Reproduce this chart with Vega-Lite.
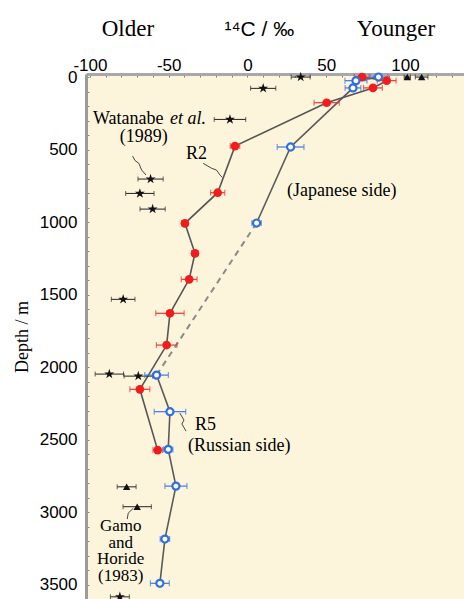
{
  "$schema": "https://vega.github.io/schema/vega-lite/v6.json",
  "width": 378,
  "height": 525,
  "autosize": {"type": "none"},
  "padding": {"left": 86, "top": 74, "right": 0, "bottom": 0},
  "background": "#ffffff",
  "config": {"view": {"fill": "#fcf5dc", "stroke": null}},
  "datasets": {
    "r2": [
      {"depth": 0, "c14": 72.8, "err": 5},
      {"depth": 25, "c14": 88.4, "err": 6},
      {"depth": 75, "c14": 79.7, "err": 6},
      {"depth": 177, "c14": 50.3, "err": 8},
      {"depth": 476, "c14": -7.9, "err": 3},
      {"depth": 797, "c14": -18.9, "err": 4.5},
      {"depth": 1008, "c14": -39.7, "err": 2},
      {"depth": 1215, "c14": -33.3, "err": 2},
      {"depth": 1394, "c14": -37, "err": 5},
      {"depth": 1628, "c14": -49.2, "err": 9},
      {"depth": 1847, "c14": -51.3, "err": 6.5},
      {"depth": 2152, "c14": -68.3, "err": 6.3},
      {"depth": 2571, "c14": -57, "err": 3}
    ],
    "r5": [
      {"depth": 0, "c14": 83.2, "err": 6, "seg": "J"},
      {"depth": 25, "c14": 68.9, "err": 7, "seg": "J"},
      {"depth": 75, "c14": 67, "err": 5, "seg": "J"},
      {"depth": 482, "c14": 27.4, "err": 8.5, "seg": "J"},
      {"depth": 1006, "c14": 5.8, "err": 3, "seg": "J"},
      {"depth": 2054, "c14": -57.7, "err": 7.5, "seg": "R"},
      {"depth": 2306, "c14": -49.2, "err": 10, "seg": "R"},
      {"depth": 2566, "c14": -50.3, "err": 3, "seg": "R"},
      {"depth": 2819, "c14": -45.4, "err": 7, "seg": "R"},
      {"depth": 3184, "c14": -52.4, "err": 3, "seg": "R"},
      {"depth": 3489, "c14": -55.6, "err": 6, "seg": "R"}
    ],
    "dashed": [
      {"depth": 1006, "c14": 5.8},
      {"depth": 2054, "c14": -57.7}
    ],
    "watanabe": [
      {"depth": 0, "c14": 33.8, "err": 6},
      {"depth": 78, "c14": 10, "err": 8},
      {"depth": 292, "c14": -11.1, "err": 10},
      {"depth": 703, "c14": -61.5, "err": 8},
      {"depth": 802, "c14": -68.3, "err": 9},
      {"depth": 910, "c14": -60.2, "err": 8},
      {"depth": 1532, "c14": -78.9, "err": 7.5},
      {"depth": 2047, "c14": -87.7, "err": 9},
      {"depth": 2061, "c14": -69.3, "err": 9},
      {"depth": 3582, "c14": -81, "err": 6}
    ],
    "gamo": [
      {"depth": 0, "c14": 110.6, "err": 4},
      {"depth": 0, "c14": 101.5, "err": 2},
      {"depth": 2824, "c14": -76.7, "err": 6},
      {"depth": 2961, "c14": -70, "err": 9}
    ],
    "leaders": [
      {"id": "w", "ord": 1, "c14": -72.9, "depth": 545},
      {"id": "w", "ord": 2, "c14": -71.4, "depth": 575},
      {"id": "w", "ord": 3, "c14": -68.9, "depth": 595},
      {"id": "w", "ord": 4, "c14": -67.2, "depth": 641},
      {"id": "w", "ord": 5, "c14": -64.4, "depth": 675},
      {"id": "r2", "ord": 1, "c14": -28.1, "depth": 595},
      {"id": "r2", "ord": 2, "c14": -22.7, "depth": 629},
      {"id": "r2", "ord": 3, "c14": -19.6, "depth": 641},
      {"id": "r2", "ord": 4, "c14": -17.5, "depth": 675},
      {"id": "r2", "ord": 5, "c14": -16, "depth": 691},
      {"id": "r5", "ord": 1, "c14": -42.9, "depth": 2316},
      {"id": "r5", "ord": 2, "c14": -40.3, "depth": 2364},
      {"id": "r5", "ord": 3, "c14": -41.6, "depth": 2391},
      {"id": "r5", "ord": 4, "c14": -39, "depth": 2440},
      {"id": "g", "ord": 1, "c14": -72.5, "depth": 2972},
      {"id": "g", "ord": 2, "c14": -75.7, "depth": 3005},
      {"id": "g", "ord": 3, "c14": -76.3, "depth": 3046}
    ],
    "annotLeft": [
      {"text": "Watanabe", "c14": -98.1, "depth": 290},
      {"text": "(1989)", "c14": -81, "depth": 415},
      {"text": "R2", "c14": -39, "depth": 527},
      {"text": "(Japanese side)", "c14": 25.1, "depth": 786},
      {"text": "R5", "c14": -33.3, "depth": 2398},
      {"text": "(Russian side)", "c14": -37.8, "depth": 2540}
    ],
    "annotItalic": [
      {"text": "et al.", "c14": -49.2, "depth": 290}
    ],
    "annotCenter": [
      {"text": "Gamo", "c14": -80.5, "depth": 3096},
      {"text": "and", "c14": -80.5, "depth": 3210},
      {"text": "Horide", "c14": -80.5, "depth": 3324},
      {"text": "(1983)", "c14": -80.5, "depth": 3438}
    ],
    "headSerif": [
      {"text": "Older", "c14": -75.9, "depth": -283},
      {"text": "Younger", "c14": 94.3, "depth": -283}
    ],
    "headSans": [
      {"text": "¹⁴C / ‰", "c14": 7.6, "depth": -283}
    ]
  },
  "encoding": {
    "x": {
      "field": "c14",
      "type": "quantitative",
      "scale": {"domain": [-102.5, 137.5], "nice": false, "zero": false},
      "axis": {
        "orient": "top",
        "title": null,
        "values": [-100, -90, -80, -70, -60, -50, -40, -30, -20, -10, 0, 10, 20, 30, 40, 50, 60, 70, 80, 90, 100, 110, 120, 130],
        "labelExpr": "datum.value % 50 === 0 ? '' + datum.value : ''",
        "labelFont": "Liberation Sans",
        "labelFontSize": 17,
        "labelColor": "#000000",
        "labelPadding": 3,
        "labelOverlap": false,
        "labelFlush": false,
        "labelBound": false,
        "domainColor": "#a8a8a8",
        "domainWidth": 3,
        "tickColor": "#777777",
        "tickSize": -3,
        "tickWidth": 1,
        "grid": false
      }
    },
    "y": {
      "field": "depth",
      "type": "quantitative",
      "scale": {"domain": [-21, 3597], "nice": false, "zero": false, "reverse": true},
      "axis": {
        "title": "Depth / m",
        "titleFont": "Liberation Serif",
        "titleFontSize": 18,
        "titleFontWeight": "normal",
        "titleColor": "#000000",
        "titlePadding": 8,
        "values": [0, 100, 200, 300, 400, 500, 600, 700, 800, 900, 1000, 1100, 1200, 1300, 1400, 1500, 1600, 1700, 1800, 1900, 2000, 2100, 2200, 2300, 2400, 2500, 2600, 2700, 2800, 2900, 3000, 3100, 3200, 3300, 3400, 3500],
        "labelExpr": "datum.value % 500 === 0 ? '' + datum.value : ''",
        "labelFont": "Liberation Sans",
        "labelFontSize": 17,
        "labelColor": "#000000",
        "labelPadding": 12,
        "labelOverlap": false,
        "labelFlush": false,
        "labelBound": false,
        "domainColor": "#9c9c9c",
        "domainWidth": 3,
        "tickColor": "#888888",
        "tickSize": -3,
        "tickWidth": 1,
        "grid": false
      }
    }
  },
  "layer": [
    {
      "data": {"name": "dashed"},
      "mark": {"type": "line", "color": "#8a8a8a", "strokeWidth": 2, "strokeDash": [6, 5]},
      "encoding": {"order": {"field": "depth", "type": "quantitative"}}
    },
    {
      "data": {"name": "r2"},
      "mark": {"type": "line", "color": "#555555", "strokeWidth": 1.6},
      "encoding": {"order": {"field": "depth", "type": "quantitative"}}
    },
    {
      "data": {"name": "r5"},
      "mark": {"type": "line", "color": "#5a5a5a", "strokeWidth": 1.6},
      "encoding": {
        "detail": {"field": "seg", "type": "nominal"},
        "order": {"field": "depth", "type": "quantitative"}
      }
    },
    {
      "data": {"name": "leaders"},
      "mark": {"type": "line", "color": "#444444", "strokeWidth": 1},
      "encoding": {
        "detail": {"field": "id", "type": "nominal"},
        "order": {"field": "ord", "type": "quantitative"}
      }
    },
    {
      "data": {"name": "watanabe"},
      "mark": {"type": "errorbar", "color": "#222222", "ticks": {"size": 5}, "thickness": 1},
      "encoding": {"xError": {"field": "err"}}
    },
    {
      "data": {"name": "gamo"},
      "mark": {"type": "errorbar", "color": "#222222", "ticks": {"size": 5}, "thickness": 1},
      "encoding": {"xError": {"field": "err"}}
    },
    {
      "data": {"name": "r2"},
      "mark": {"type": "errorbar", "color": "#e03a3a", "ticks": {"size": 6}, "thickness": 1.2},
      "encoding": {"xError": {"field": "err"}}
    },
    {
      "data": {"name": "r5"},
      "mark": {"type": "errorbar", "color": "#3f78e0", "ticks": {"size": 6}, "thickness": 1.2},
      "encoding": {"xError": {"field": "err"}}
    },
    {
      "data": {"name": "watanabe"},
      "mark": {"type": "point", "shape": "M0,-1L0.2245,-0.309L0.9511,-0.309L0.3633,0.118L0.5878,0.809L0,0.382L-0.5878,0.809L-0.3633,0.118L-0.9511,-0.309L-0.2245,-0.309Z", "size": 110, "filled": true, "color": "#111111", "opacity": 1}
    },
    {
      "data": {"name": "gamo"},
      "mark": {"type": "point", "shape": "triangle-up", "size": 55, "filled": true, "color": "#111111", "opacity": 1}
    },
    {
      "data": {"name": "r2"},
      "mark": {"type": "circle", "size": 75, "color": "#f21c1c", "opacity": 1}
    },
    {
      "data": {"name": "r5"},
      "mark": {"type": "point", "shape": "circle", "size": 50, "filled": true, "fill": "#ffffff", "stroke": "#2f6fe0", "strokeWidth": 2.2, "opacity": 1}
    },
    {
      "data": {"name": "annotLeft"},
      "mark": {"type": "text", "font": "Liberation Serif", "fontSize": 18, "align": "left", "baseline": "middle", "color": "#000000"},
      "encoding": {"text": {"field": "text", "type": "nominal"}}
    },
    {
      "data": {"name": "annotItalic"},
      "mark": {"type": "text", "font": "Liberation Serif", "fontSize": 18, "fontStyle": "italic", "align": "left", "baseline": "middle", "color": "#000000"},
      "encoding": {"text": {"field": "text", "type": "nominal"}}
    },
    {
      "data": {"name": "annotCenter"},
      "mark": {"type": "text", "font": "Liberation Serif", "fontSize": 17, "align": "center", "baseline": "middle", "color": "#000000"},
      "encoding": {"text": {"field": "text", "type": "nominal"}}
    },
    {
      "data": {"name": "headSerif"},
      "mark": {"type": "text", "font": "Liberation Serif", "fontSize": 23, "align": "center", "baseline": "alphabetic", "color": "#000000"},
      "encoding": {"text": {"field": "text", "type": "nominal"}}
    },
    {
      "data": {"name": "headSans"},
      "mark": {"type": "text", "font": "Liberation Sans", "fontSize": 21, "align": "center", "baseline": "alphabetic", "color": "#000000"},
      "encoding": {"text": {"field": "text", "type": "nominal"}}
    }
  ]
}
